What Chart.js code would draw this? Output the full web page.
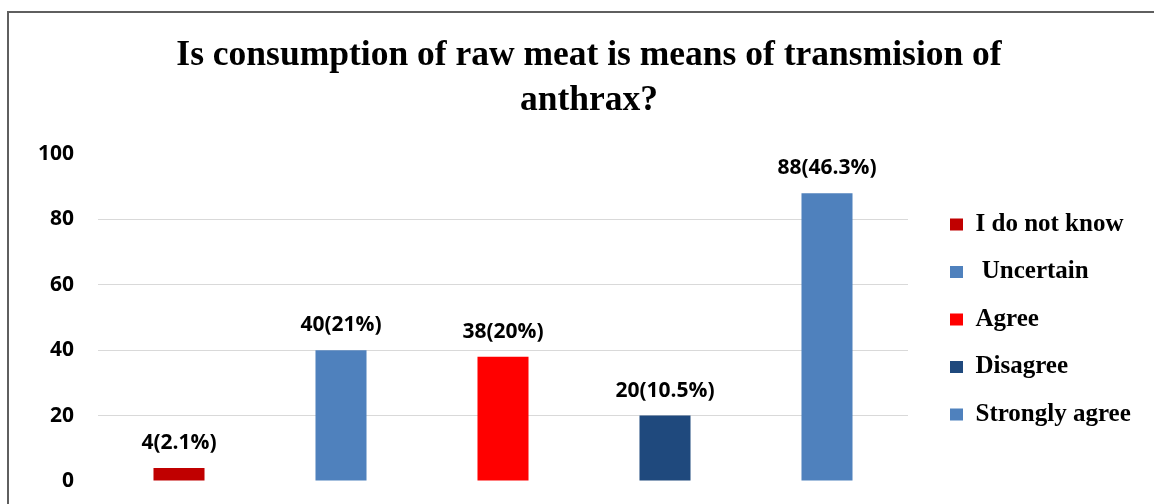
<!DOCTYPE html>
<html lang="en">
<head>
    <meta charset="UTF-8">
    <title>Raw meat and anthrax</title>
    <script src="https://cdn.jsdelivr.net/npm/chart.js"></script>
    <style>
        html, body {
            margin: 0;
            background: #fff;
            overflow: hidden;
        }

        /* frame around the chart, only left and top edges are in view */
        #frame {
            position: absolute;
            left: 7px;
            top: 11px;
            width: 1160px;
            height: 520px;
            border-left: 2px solid #5f5f5f;
            border-top: 2px solid #5f5f5f;
        }

        #chartBox {
            position: absolute;
            left: 9px;
            top: 13px;
            width: 1145px;
            height: 491px;
        }
    </style>
</head>
<body>
    <div id="frame"></div>
    <div id="chartBox">
        <canvas id="meatChart"></canvas>
    </div>

    <script>
        const categories = ['I do not know', ' Uncertain', 'Agree', 'Disagree', 'Strongly agree'];
        const counts = [4, 40, 38, 20, 88];
        const percents = [2.1, 21, 20, 10.5, 46.3];
        const yTicks = [0, 20, 40, 60, 80, 100];

        const barColors = ['#c00000', '#4f81bd', '#ff0000', '#1f497d', '#4f81bd'];

        // "count(percent%)" text over every bar
        const valueLabels = {
            id: 'valueLabels',
            afterDatasetsDraw(chart) {
                const ctx = chart.ctx;
                const meta = chart.getDatasetMeta(0);
                ctx.save();
                ctx.font = 'bold 21px "Open Sans", sans-serif';
                ctx.fillStyle = '#000';
                ctx.textAlign = 'center';
                ctx.textBaseline = 'middle';
                meta.data.forEach((bar, i) => {
                    ctx.fillText(`${counts[i]}(${percents[i]}%)`, bar.x, bar.y - 25);
                });
                ctx.restore();
            }
        };

        // move the legend a little away from the plot, and centre the title over the frame
        const boxNudge = {
            id: 'boxNudge',
            afterLayout(chart) {
                chart.legend.left += 19.5;
                chart.legend.right += 19.5;
                chart.legend.top += 2;
                chart.legend.bottom += 2;
                chart.titleBlock.left += 25.5;
                chart.titleBlock.right += 25.5;
            }
        };

        new Chart(document.getElementById('meatChart'), {
            type: 'bar',
            data: {
                labels: categories,
                datasets: [{
                    data: counts,
                    backgroundColor: barColors,
                    borderWidth: 0,
                    barPercentage: 0.315,
                    categoryPercentage: 1
                }]
            },
            options: {
                responsive: true,
                maintainAspectRatio: false,
                animation: false,
                layout: { padding: { left: 0, bottom: 23, right: 36 } },
                plugins: {
                    title: {
                        display: true,
                        text: ['Is consumption of raw meat is means of transmision of', 'anthrax?'],
                        color: '#000',
                        font: { family: '"Liberation Serif", serif', size: 35.5, weight: 'bold', lineHeight: 1.268 },
                        padding: { top: 20, bottom: 31 }
                    },
                    legend: {
                        position: 'right',
                        fullSize: false,
                        maxWidth: 210,
                        labels: {
                            color: '#000',
                            font: { family: '"Liberation Serif", serif', size: 25, weight: 'bold' },
                            boxWidth: 13,
                            boxHeight: 12,
                            padding: 22.5,
                            generateLabels: chart => chart.data.labels.map((text, i) => ({
                                text: text,
                                fillStyle: barColors[i],
                                strokeStyle: barColors[i],
                                lineWidth: 0,
                                hidden: false,
                                index: i
                            }))
                        }
                    },
                    tooltip: { enabled: false }
                },
                scales: {
                    x: { display: false },
                    y: {
                        min: 0,
                        max: 100,
                        afterBuildTicks: scale => { scale.ticks = yTicks.map(v => ({ value: v })); },
                        afterFit: scale => { scale.width = 89; },
                        border: { display: false },
                        // no lines at the ends of the range; invisible tick marks keep the labels clear of the plot
                        grid: {
                            color: ctx => (ctx.tick.value === 0 || ctx.tick.value === 100) ? 'rgba(0,0,0,0)' : '#d9d9d9',
                            drawTicks: true,
                            tickLength: 24,
                            tickColor: 'rgba(0,0,0,0)'
                        },
                        ticks: {
                            color: '#000',
                            padding: 0,
                            font: { family: '"Open Sans", sans-serif', size: 21, weight: 'bold' }
                        }
                    }
                }
            },
            plugins: [valueLabels, boxNudge]
        });
    </script>
</body>
</html>
